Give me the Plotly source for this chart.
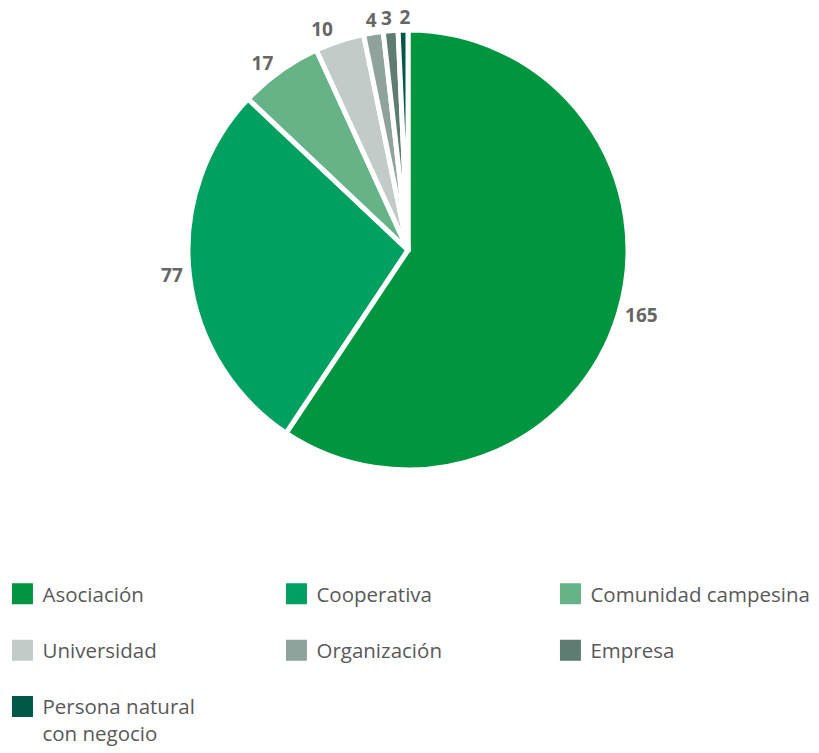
import plotly.graph_objects as go

labels = ["Asociación", "Cooperativa", "Comunidad campesina", "Universidad",
          "Organización", "Empresa", "Persona natural<br>con negocio"]
values = [165, 77, 17, 10, 4, 3, 2]
colors = ["#00963F", "#00A060", "#66B388", "#C2CBC8", "#8FA39C", "#5E7C72", "#005746"]

FONT = "Open Sans"
W, H = 819, 753
domain = dict(x=[188/W, 628/W], y=[1-470/H, 1-30/H])
label_font = dict(family=FONT, size=19, color="#666666", weight="bold")

# main pie: labels for the larger slices
main_text = [str(v) if v >= 10 else "" for v in values]

fig = go.Figure()
fig.add_trace(go.Pie(
    labels=labels, values=values, sort=False, direction="clockwise", rotation=0,
    marker=dict(colors=colors, line=dict(color="white", width=5)),
    text=main_text, textinfo="text", textposition="outside",
    textfont=label_font,
    domain=domain, showlegend=False, hoverinfo="label+value",
))

# each small slice gets its label from its own transparent overlay (no label scooting),
# nudged slightly right (pixels) like the reference's label placement
label_nudge = {4: 10, 5: 8, 6: 14}
for i, v in enumerate(values):
    if v >= 10:
        continue
    txt = ["" for _ in values]
    txt[i] = str(v)
    s = label_nudge.get(i, 10) / W
    fig.add_trace(go.Pie(
        labels=labels, values=values, sort=False, direction="clockwise", rotation=0,
        marker=dict(colors=["rgba(0,0,0,0)"] * len(values), line=dict(width=0)),
        text=txt, textinfo="text", textposition="outside",
        textfont=label_font,
        domain=dict(x=[domain["x"][0] + s, domain["x"][1] + s], y=domain["y"]),
        showlegend=False, hoverinfo="skip",
    ))

# legend entries
for lab, col in zip(labels, colors):
    name = lab if "<br>" in lab else lab + "<br> "
    fig.add_trace(go.Scatter(
        x=[None], y=[None], mode="markers", name=name,
        marker=dict(symbol="square", size=29, color=col, line=dict(color=col, width=5)),
        hoverinfo="skip",
    ))

fig.update_layout(
    width=W, height=H,
    margin=dict(l=0, r=0, t=0, b=0, autoexpand=False),
    paper_bgcolor="white",
    plot_bgcolor="white",
    font=dict(family=FONT, color="#595959"),
    xaxis=dict(visible=False),
    yaxis=dict(visible=False),
    legend=dict(
        orientation="h",
        x=0.003, y=0.0, xanchor="left", yanchor="bottom",
        entrywidth=229, entrywidthmode="pixels",
        font=dict(family=FONT, size=20.5, color="#595959"),
        itemsizing="trace",
        valign="top",
        traceorder="normal",
    ),
)

fig.write_html("out.html")
